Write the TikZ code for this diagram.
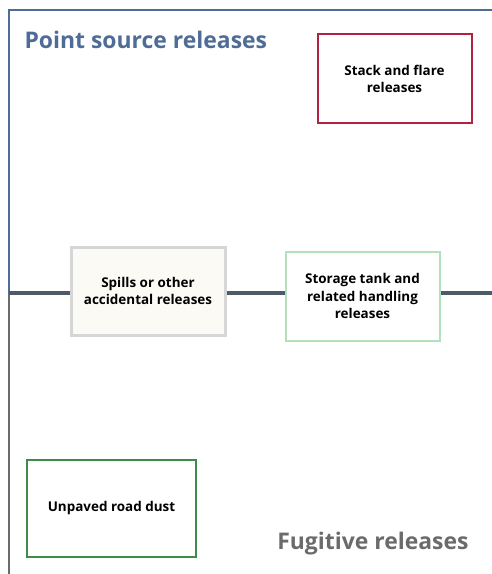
\documentclass[tikz,border=0pt]{standalone}
\usepackage{fontspec}
\setmainfont{Open Sans}
\usepackage{tikz}
\usetikzlibrary{positioning}
\definecolor{psblue}{HTML}{4E6C96}
\definecolor{divline}{HTML}{4D5A6C}
\definecolor{fugray}{HTML}{6B6B6B}
\definecolor{stackred}{HTML}{B3223E}
\definecolor{spillgray}{HTML}{D6D6D6}
\definecolor{spillfill}{HTML}{FCFAF5}
\definecolor{tankgreen}{HTML}{B2E0BA}
\definecolor{roadgreen}{HTML}{3C8C4A}
\begin{document}
\begin{tikzpicture}[
  x=1bp, y=-1bp, font=\fontsize{13.5}{17.5}\selectfont,
  bx/.style={rectangle, draw, fill=white, align=center, inner sep=2pt},
  hd/.style={anchor=base west, font=\fontsize{23}{26}\selectfont\bfseries}]
\useasboundingbox (0,0) rectangle (492,574);

% ---- frame of the two zones ----
\coordinate (tl) at (9,10);
\coordinate (tr) at (492,10);
\coordinate (ml) at (9,293);
\coordinate (mr) at (492,293);
\coordinate (bl) at (9,574);
\draw[psblue, line width=2bp] (tr) -- (tl) -- (ml);
\draw[fugray, line width=2bp] (ml) -- (bl);
\draw[divline, line width=4bp] (ml) -- (mr);

% ---- zone titles ----
\node[hd, text=psblue] (pst) at (21,49) {Point source releases};
\node[hd, text=fugray, anchor=base east] (fgt) at (472,549) {Fugitive releases};

% ---- release boxes ----
\node[bx, draw=stackred, line width=2bp, minimum width=154bp, minimum height=89bp] (stack) at (394.5,79) {\bfseries Stack and flare\\\bfseries releases};
\node[bx, draw=spillgray, fill=spillfill, line width=3bp, minimum width=154bp, minimum height=88bp] (spill) at (148,291) {\bfseries Spills or other\\\bfseries accidental releases};
\node[bx, draw=tankgreen, line width=2bp, minimum width=154bp, minimum height=89bp] (tank) at (362.5,296) {\bfseries Storage tank and\\\bfseries related handling\\\bfseries releases};
\node[bx, draw=roadgreen, line width=2bp, minimum width=168bp, minimum height=97bp] (road) at (111.5,508) {\bfseries Unpaved road dust};
\end{tikzpicture}
\end{document}
